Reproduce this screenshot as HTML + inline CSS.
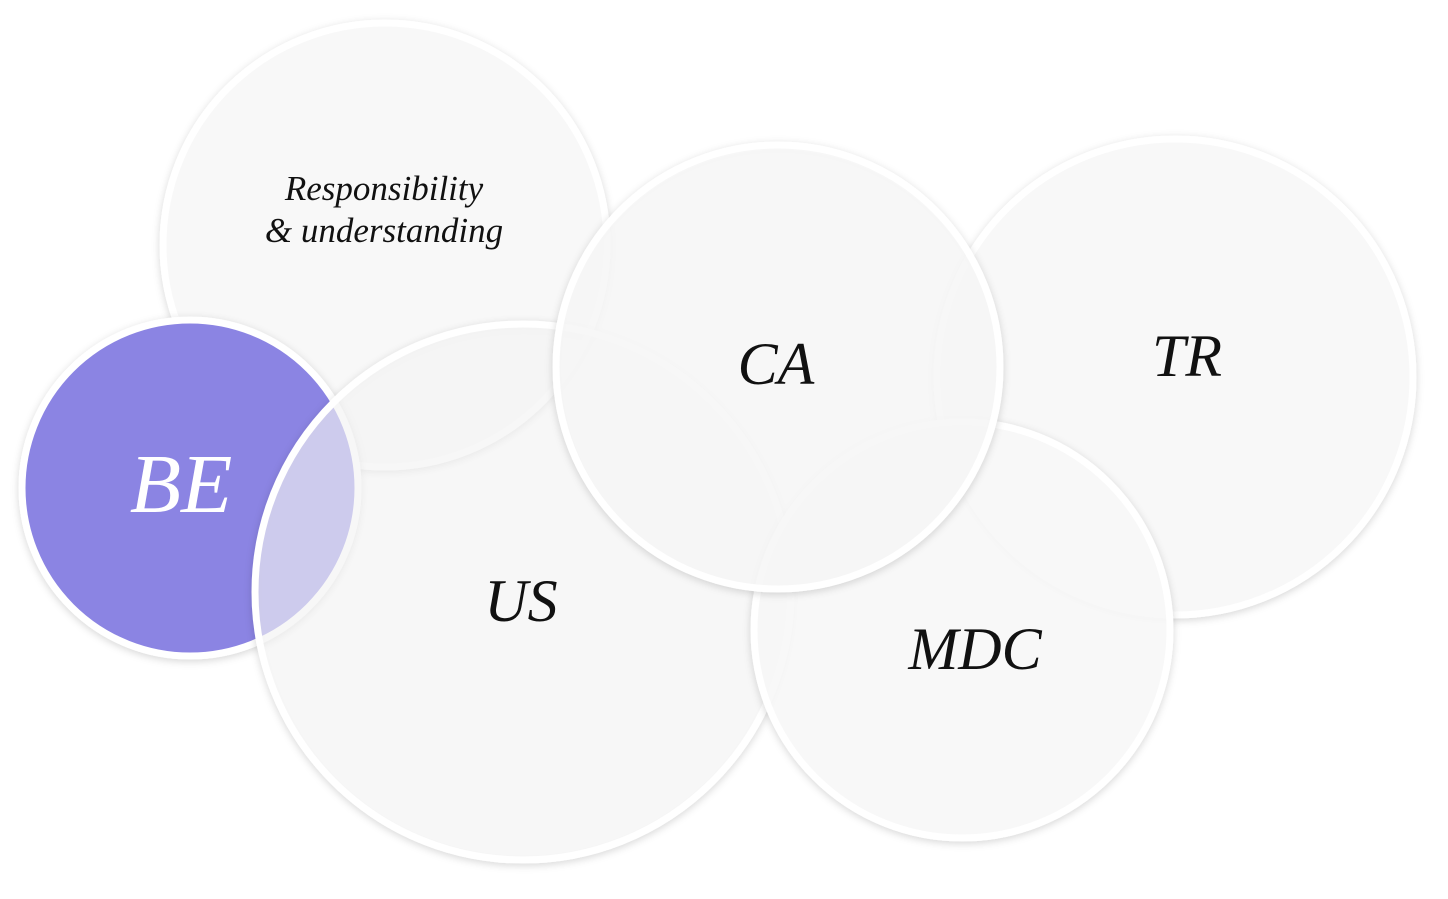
<!DOCTYPE html>
<html><head><meta charset="utf-8"><style>
html,body{margin:0;padding:0;background:#fff;}
svg{display:block;}
text{font-family:"Liberation Serif",serif;font-style:italic;fill:#111;}
</style></head><body>
<svg width="1448" height="899" viewBox="0 0 1448 899">
<defs>
<filter id="sh" x="-20%" y="-20%" width="140%" height="140%">
<feDropShadow dx="0" dy="2" stdDeviation="4" flood-color="#000" flood-opacity="0.16"/>
</filter>
</defs>
<g filter="url(#sh)">
<circle cx="385" cy="245" r="222" fill="rgba(249,249,249,0.92)" stroke="#fff" stroke-width="7"/>
</g>
<g filter="url(#sh)">
<circle cx="1175" cy="377" r="238" fill="rgba(249,249,249,0.92)" stroke="#fff" stroke-width="7"/>
</g>
<g filter="url(#sh)">
<circle cx="190" cy="488" r="168" fill="#8b84e3" stroke="#fff" stroke-width="7"/>
</g>
<g filter="url(#sh)">
<circle cx="523" cy="592" r="268" fill="rgba(250,250,250,0.6)" stroke="#fff" stroke-width="7"/>
</g>
<g filter="url(#sh)">
<circle cx="962" cy="630" r="208" fill="rgba(249,249,249,0.88)" stroke="#fff" stroke-width="7"/>
</g>
<g filter="url(#sh)">
<circle cx="778" cy="367" r="222" fill="rgba(248,248,248,0.85)" stroke="#fff" stroke-width="7"/>
</g>
<text x="384" y="200" font-size="35" text-anchor="middle">Responsibility</text>
<text x="384" y="242" font-size="35" text-anchor="middle">&amp; understanding</text>
<text x="776" y="384" font-size="60" text-anchor="middle">CA</text>
<text x="1187" y="376" font-size="60" text-anchor="middle">TR</text>
<text x="181" y="512" font-size="84" text-anchor="middle" style="fill:#fff">BE</text>
<text x="521" y="621" font-size="60" text-anchor="middle">US</text>
<text x="975" y="669" font-size="60" text-anchor="middle">MDC</text>
</svg>
</body></html>
